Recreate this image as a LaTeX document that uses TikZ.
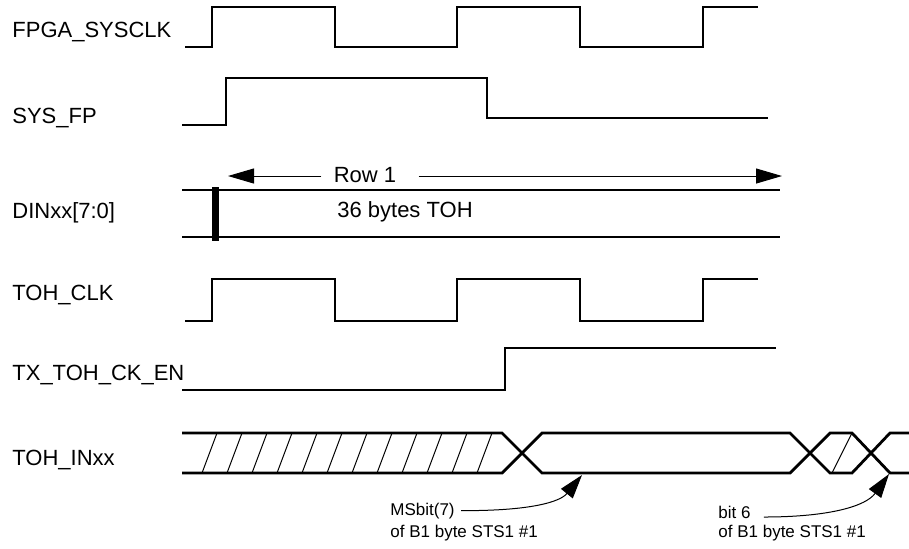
\documentclass[tikz,border=0pt]{standalone}
\usepackage{fontspec}
\setmainfont{Liberation Sans}
\usetikzlibrary{positioning}
\usetikzlibrary{shapes,arrows.meta}

\begin{document}
\begin{tikzpicture}[x=0.5pt,y=-0.5pt,
		sig/.style={line width=1.4pt},
		lbl/.style={anchor=base west,inner sep=0pt,font=\fontsize{11}{13}\selectfont},
		note/.style={anchor=base west,inner sep=0pt,font=\fontsize{8.5}{10}\selectfont},
		arr/.style={line width=0.5pt,-{Triangle[length=13pt,width=7.5pt]}},
		lead/.style={line width=0.5pt,-{Triangle[length=12pt,width=7.5pt]}}]
		\useasboundingbox (0,0) rectangle (909,548);
		
		% signal names
		\node[lbl] (sysclk) at (12,37) {FPGA\_SYSCLK};
		\node[lbl] (sysfp) at (12,123) {SYS\_FP};
		\node[lbl] (din) at (12,218) {DINxx[7:0]};
		\node[lbl] (tohclk) at (12,300) {TOH\_CLK};
		\node[lbl] (txen) at (12,380) {TX\_TOH\_CK\_EN};
		\node[lbl] (tohin) at (12,465) {TOH\_INxx};
		
		% clocks
		\draw[sig] (185,47) -- (212,47) -- (212,7) -- (335,7) -- (335,47) -- (457,47) -- (457,7) -- (580,7) -- (580,47) -- (703,47) -- (703,7) -- (758,7);
		\draw[sig] (185,321) -- (212,321) -- (212,279) -- (335,279) -- (335,321) -- (457,321) -- (457,279) -- (580,279) -- (580,321) -- (703,321) -- (703,279) -- (758,279);
		
		% frame pulse and enable
		\draw[sig] (182,125) -- (226,125) -- (226,78) -- (487,78) -- (487,118) -- (768,118);
		\draw[sig] (182,390) -- (505,390) -- (505,348) -- (776,348);
		
		% data bus
		\draw[sig] (182,190) -- (780,190);
		\draw[sig] (182,237) -- (780,237);
		\draw[line width=3.5pt] (215,187) -- (215,241);
		\node[lbl,anchor=center] (row) at (365,175) {Row 1};
		\coordinate (rowL) at (228,176);
		\coordinate (rowR) at (782,176);
		\draw[arr] ([xshift=-6pt,yshift=-0.5pt]row.west) -- (rowL);
		\draw[arr] ([xshift=11pt,yshift=-0.5pt]row.east) -- (rowR);
		\node[lbl,anchor=center] (toh) at (405,212) {36 bytes TOH};
		
		% toh input
		\draw[sig] (182,433) -- (502,433) -- (542,473) -- (790,473) -- (830,433) -- (852,433) -- (890,473) -- (909,473);
		\draw[sig] (182,473) -- (502,473) -- (542,433) -- (790,433) -- (830,473) -- (852,473) -- (890,433) -- (909,433);
		\foreach \x in {202,227,...,478}
			\draw[line width=0.5pt] (\x,473) -- (\x+15,433);
		\draw[line width=0.5pt] (832,473) -- (852,433);
		
		% notes
		\node[note] (msb) at (390,515) {MSbit(7)};
		\node[note] (msbof) at (390,537) {of B1 byte STS1 \#1};
		\node[note] (bitsix) at (718,518) {bit 6};
		\node[note] (bitof) at (718,537) {of B1 byte STS1 \#1};
		\coordinate (msbtip) at (582,475);
		\coordinate (bittip) at (889,474);
		\draw[lead] ([xshift=3pt]msb.east) .. controls (530,511) and (560,502) .. (msbtip);
		\draw[lead] ([xshift=6.5pt,yshift=0.5pt]bitsix.base east) .. controls (830,517) and (866,506) .. (bittip);
	\end{tikzpicture}
\end{document}
